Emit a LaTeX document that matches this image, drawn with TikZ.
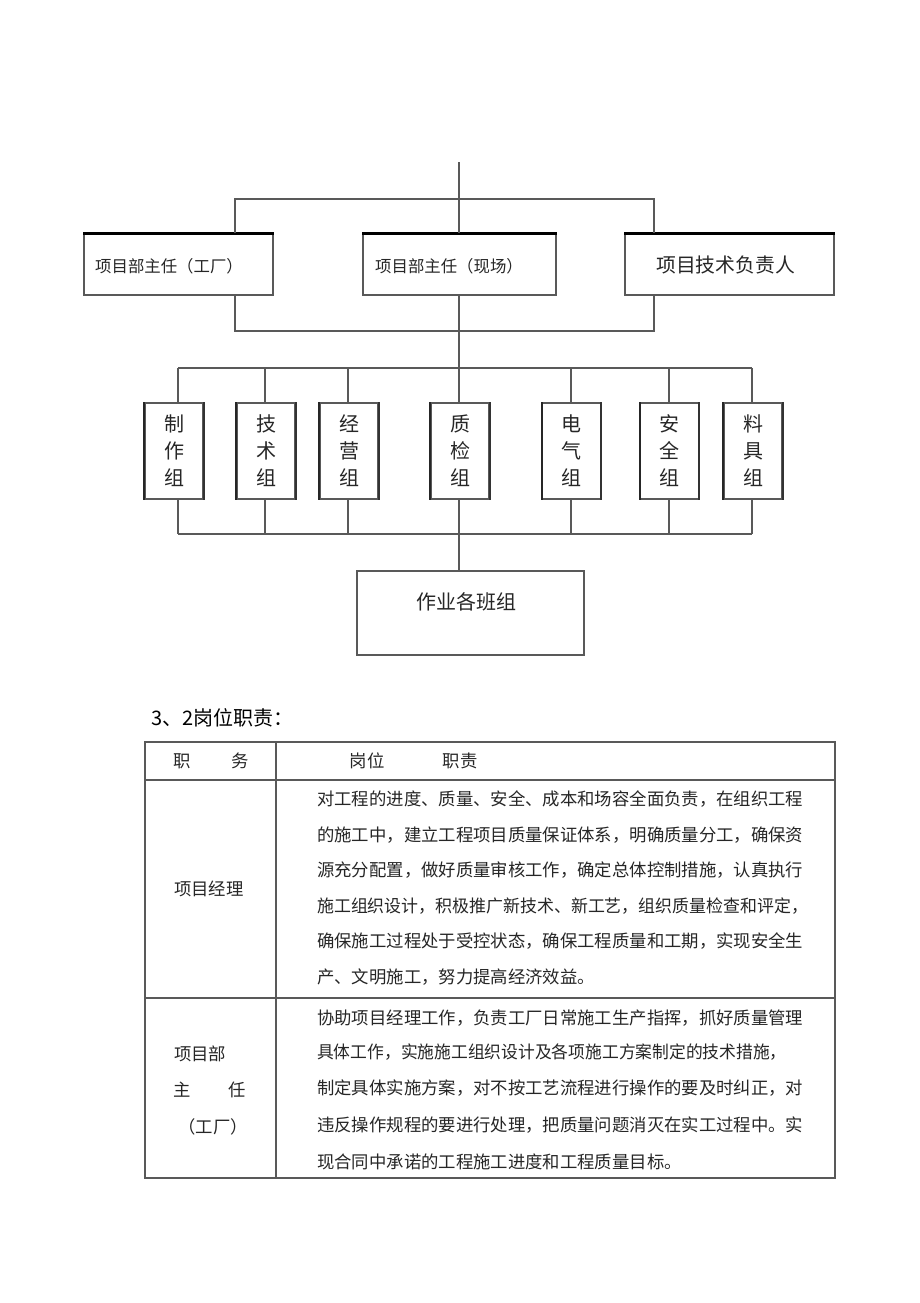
\documentclass[tikz,border=0pt]{standalone}
\usepackage{fontspec}
\usepackage{graphicx}
\setmainfont{Noto Sans CJK SC}
\newcommand\fsA{\fontsize{16.4}{18}\selectfont}
\newcommand\fsB{\fontsize{19.8}{22}\selectfont}
\newcommand\fsG{\fontsize{20}{27}\selectfont}
\newcommand\fsH{\fontsize{20}{22}\selectfont}
\newcommand\fsT{\fontsize{17.36}{20}\selectfont}
\begin{document}
\begin{tikzpicture}[x=1pt,y=-1pt,
  ln/.style={draw=black!65, line width=1.3pt},
  boxst/.style={draw=black!65, line width=1.3pt, fill=white, inner sep=0pt},
  grpbox/.style={boxst, minimum width=58pt, minimum height=96pt, font=\fsG, align=center, text=black!85},
  lbl/.style={inner sep=0pt, text=black!85},
  bodyline/.style={inner sep=0pt, anchor=west, font=\fsT, text=black!85},
  tbl/.style={draw=black!65, line width=1.4pt}]
\useasboundingbox (0,0) rectangle (920,1303);
\fill[white] (0,0) rectangle (920,1303);

% top level boxes
\node[boxst, minimum width=189pt, minimum height=61pt] (b1) at (178.5,264.5) {};
\node[boxst, minimum width=193pt, minimum height=61pt] (b2) at (459.5,264.5) {};
\node[boxst, minimum width=209pt, minimum height=61pt] (b3) at (729.5,264.5) {};
\foreach \b in {b1,b2,b3}{\draw[line width=2.6pt, black] (\b.north west) -- (\b.north east);}
\node[lbl, font=\fsA, anchor=west] (t1) at (95,266) {项目部主任（工厂）};
\node[lbl, font=\fsA, anchor=west] (t2) at (375,266) {项目部主任（现场）};
\node[lbl, font=\fsB, anchor=west] (t3) at (656,265) {项目技术负责人};

\coordinate (top) at (459,162);
\coordinate (ul) at (235,199);
\coordinate (ur) at (654,199);
\coordinate (ll) at (235,331);
\coordinate (lr) at (654,331);
\draw[ln] (top) -- (b2.north -| top);
\draw[ln] (ul |- b1.north) -- (ul) -- (ur) -- (ur |- b3.north);
\draw[ln] (ll |- b1.south) -- (ll) -- (lr) -- (lr |- b3.south);

% groups
\node[grpbox] (g1) at (174,451) {制\\作\\组};
\node[grpbox] (g2) at (266,451) {技\\术\\组};
\node[grpbox] (g3) at (349,451) {经\\营\\组};
\node[grpbox] (g4) at (460,451) {质\\检\\组};
\node[grpbox] (g5) at (571.5,451) {电\\气\\组};
\node[grpbox] (g6) at (669.5,451) {安\\全\\组};
\node[grpbox] (g7) at (753,451) {料\\具\\组};
\foreach \g in {g1,g2,g3,g4,g5,g6,g7}{
  \draw[line width=2.2pt, black!85] (\g.north west) -- (\g.south west);
  \draw[line width=1.8pt, black!80] (\g.north east) -- (\g.south east);}

\coordinate (bt1) at (178,368); \coordinate (bt2) at (265,368);
\coordinate (bt3) at (348,368); \coordinate (bt4) at (459,368);
\coordinate (bt5) at (571,368); \coordinate (bt6) at (669,368);
\coordinate (bt7) at (752,368);
\coordinate (bb1) at (178,534); \coordinate (bb7) at (752,534);
\coordinate (bb4) at (459,534);
\draw[ln] (b2.south -| top) -- (bt4);
\draw[ln] (bt1) -- (bt7);
\draw[ln] (bb1) -- (bb7);
\foreach \i in {1,...,7}{
  \draw[ln] (bt\i) -- (bt\i |- g\i.north);
  \draw[ln] (bt\i |- g\i.south) -- (bt\i |- bb1);}

\node[boxst, minimum width=227pt, minimum height=84pt] (bot) at (470.5,613) {};
\node[lbl, font=\fsH] (tbot) at (466,602) {作业各班组};
\draw[ln] (bb4) -- (bb4 |- bot.north);

% heading
\node[lbl, font=\fsH, anchor=west, text=black] (head) at (151,718) {3、2岗位职责：};

% table
\draw[tbl] (145,742) rectangle (835,1178);
\draw[tbl] (145,780) -- (835,780);
\draw[tbl] (145,998) -- (835,998);
\draw[tbl] (276,742) -- (276,1178);

\node[lbl, font=\fsT] (h1) at (182,761) {职};
\node[lbl, font=\fsT] (h2) at (240,761) {务};
\node[lbl, font=\fsT] (h3) at (367,761) {岗位};
\node[lbl, font=\fsT] (h4) at (460,761) {职责};

\node[lbl, font=\fsT, anchor=west] (r1) at (174,889) {项目经理};
\node[bodyline] at (317,799) {对工程的进度、质量、安全、成本和场容全面负责，在组织工程};
\node[bodyline] at (317,834.6) {的施工中，建立工程项目质量保证体系，明确质量分工，确保资};
\node[bodyline] at (317,870) {源充分配置，做好质量审核工作，确定总体控制措施，认真执行};
\node[bodyline] at (317,906) {\scalebox{0.975}[1]{施工组织设计，积极推广新技术、新工艺，组织质量检查和评定，}};
\node[bodyline] at (317,941) {确保施工过程处于受控状态，确保工程质量和工期，实现安全生};
\node[bodyline] at (317,977) {产、文明施工，努力提高经济效益。};

\node[lbl, font=\fsT, anchor=west] (r2a) at (174,1054) {项目部};
\node[lbl, font=\fsT] (r2b) at (182,1090) {主};
\node[lbl, font=\fsT] (r2c) at (237,1090) {任};
\node[lbl, font=\fsT] (r2d) at (213,1127) {（工厂）};
\node[bodyline] at (317,1018) {协助项目经理工作，负责工厂日常施工生产指挥，抓好质量管理};
\node[bodyline] at (317,1052) {\scalebox{0.966}[1]{具体工作，实施施工组织设计及各项施工方案制定的技术措施，}};
\node[bodyline] at (317,1088) {制定具体实施方案，对不按工艺流程进行操作的要及时纠正，对};
\node[bodyline] at (317,1125) {违反操作规程的要进行处理，把质量问题消灭在实工过程中。实};
\node[bodyline] at (317,1162) {现合同中承诺的工程施工进度和工程质量目标。};
\end{tikzpicture}
\end{document}
